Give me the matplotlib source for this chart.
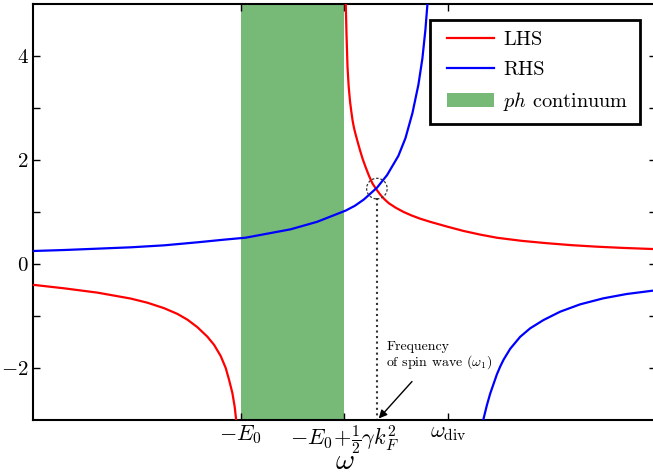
import matplotlib
matplotlib.use("Agg")
import matplotlib.pyplot as plt
from matplotlib.patches import Ellipse, Patch
from matplotlib.lines import Line2D
from matplotlib.legend_handler import HandlerLine2D, HandlerPatch

plt.rcParams['mathtext.fontset'] = 'cm'
plt.rcParams['font.family'] = 'serif'
plt.rcParams['font.serif'] = ['cmr10']
plt.rcParams['axes.formatter.use_mathtext'] = True

# omega axis: -E0 -> -1, -E0 + gamma kF^2/2 -> 0, omega_div -> 1
x_ticks = [-1.0, 0.0, 1.0]
x_ticklabels = [r'$-E_0$', r'$-E_0\!+\!\frac{1}{2}\gamma k_F^2$', r'$\omega_{\rm div}$']
cont_lo, cont_hi = -1.0, 0.0

# LHS, branch left of the continuum
lhs_l_x = [-3.0, -2.699, -2.378, -2.058, -1.897, -1.737, -1.609, -1.513, -1.417,
           -1.321, -1.256, -1.192, -1.144, -1.112, -1.080, -1.058, -1.045, -1.040]
lhs_l_y = [-0.40, -0.468, -0.551, -0.665, -0.745, -0.850, -0.960, -1.070, -1.215,
           -1.397, -1.555, -1.770, -2.000, -2.225, -2.480, -2.740, -2.968, -3.1]
# LHS, branch right of the continuum
lhs_r_x = [0.008, 0.0125, 0.019, 0.029, 0.040, 0.053, 0.065, 0.077, 0.090, 0.106,
           0.125, 0.149, 0.175, 0.202, 0.235, 0.269, 0.305, 0.346, 0.385, 0.426,
           0.495, 0.570, 0.650, 0.731, 0.827, 0.987, 1.147, 1.308, 1.468, 1.708,
           1.949, 2.189, 2.430, 2.686, 2.958, 3.0]
lhs_r_y = [5.5, 4.98, 4.44, 3.79, 3.42, 3.13, 2.94, 2.77, 2.63, 2.50,
           2.36, 2.19, 2.02, 1.87, 1.70, 1.55, 1.44, 1.33, 1.245, 1.17,
           1.08, 1.00, 0.93, 0.87, 0.81, 0.72, 0.635, 0.565, 0.505, 0.445,
           0.400, 0.362, 0.333, 0.309, 0.289, 0.286]
# RHS, left of the divergence
rhs_l_x = [-3.0, -2.699, -2.378, -2.058, -1.737, -1.417, -1.160, -0.952, -0.519,
           -0.263, 0.010, 0.100, 0.186, 0.314, 0.410, 0.519, 0.587, 0.654, 0.712,
           0.750, 0.779, 0.798, 0.812]
rhs_l_y = [0.25, 0.269, 0.295, 0.321, 0.359, 0.417, 0.468, 0.506, 0.667,
           0.812, 1.026, 1.12, 1.24, 1.47, 1.71, 2.08, 2.42, 2.90, 3.45,
           3.95, 4.50, 4.98, 5.3]
# RHS, right of the divergence
rhs_r_x = [1.330, 1.340, 1.372, 1.404, 1.468, 1.500, 1.532, 1.596, 1.692, 1.788,
           1.917, 2.077, 2.269, 2.493, 2.718, 2.968, 3.0]
rhs_r_y = [-3.2, -2.968, -2.71, -2.487, -2.12, -1.97, -1.84, -1.63, -1.40, -1.237,
           -1.077, -0.917, -0.776, -0.660, -0.577, -0.513, -0.505]

# spin wave solution (crossing)
w1_x, w1_y = 0.312, 1.45

fig = plt.figure(figsize=(6.53, 4.75), dpi=100)
ax = fig.add_axes([33 / 653, 55 / 475, 623 / 653, 416 / 475])

ax.axvspan(cont_lo, cont_hi, color='#77b977', lw=0, zorder=1)
ax.plot(lhs_l_x, lhs_l_y, color='red', lw=1.6, zorder=3)
ax.plot(lhs_r_x, lhs_r_y, color='red', lw=1.6, zorder=3)
ax.plot(rhs_l_x, rhs_l_y, color='blue', lw=1.6, zorder=3)
ax.plot(rhs_r_x, rhs_r_y, color='blue', lw=1.6, zorder=3)

ax.add_patch(Ellipse((w1_x, w1_y), 0.198, 0.396, fill=False, ls=(0, (2, 1.5)), lw=0.9,
                     edgecolor='#333333', zorder=4))
ax.plot([w1_x + 0.004, w1_x + 0.004], [w1_y - 0.19, -3.0], ls=':', color='#333333',
        lw=1.5, zorder=2)

ax.text(0.404, -1.77, 'Frequency\nof spin wave ($\\omega_1$)', fontsize=10,
        ha='left', va='center', linespacing=1.0)
ax.annotate('', xy=(0.33, -2.97), xytext=(0.65, -2.26),
            arrowprops=dict(arrowstyle='-|>', color='black', lw=1.0,
                            shrinkA=0, shrinkB=0, mutation_scale=12))

ax.set_xlim(-3, 3)
ax.set_ylim(-3, 5)
ax.set_xticks(x_ticks)
ax.set_xticklabels(x_ticklabels, fontsize=16)
ax.set_yticks([-2, 0, 2, 4])
ax.set_yticklabels([r'$-2$', r'$0$', r'$2$', r'$4$'], fontsize=15)
ax.set_yticks([-1, 1, 3], minor=True)
ax.tick_params(which='both', direction='in', top=True, right=True, length=5, width=1)
ax.tick_params(axis='x', pad=2.5)
ax.tick_params(axis='y', pad=3)
for s in ax.spines.values():
    s.set_linewidth(1.5)

# omega label under the axis
fig.text(344.5 / 653, 1 - 469 / 475, r'$\omega$', fontsize=21, ha='center', va='baseline')

handles = [Line2D([], [], color='red', lw=1.6),
           Line2D([], [], color='blue', lw=1.6),
           Patch(facecolor='#77b977', edgecolor='none')]
labels = ['LHS', 'RHS', r'$ph$ continuum']
leg = ax.legend(handles, labels, loc='upper right',
                bbox_to_anchor=(640 / 653, 1 - 20 / 475),
                bbox_transform=fig.transFigure, borderaxespad=0, fontsize=14.6,
                fancybox=False, framealpha=1, borderpad=0.55, labelspacing=0.56,
                handlelength=2.6, handletextpad=0.45,
                handler_map={Line2D: HandlerLine2D(xpad=0.28),
                             Patch: HandlerPatch(xpad=0.28)})
leg.get_frame().set_edgecolor('black')
leg.get_frame().set_linewidth(2)

fig.savefig('out.png', dpi=100)
